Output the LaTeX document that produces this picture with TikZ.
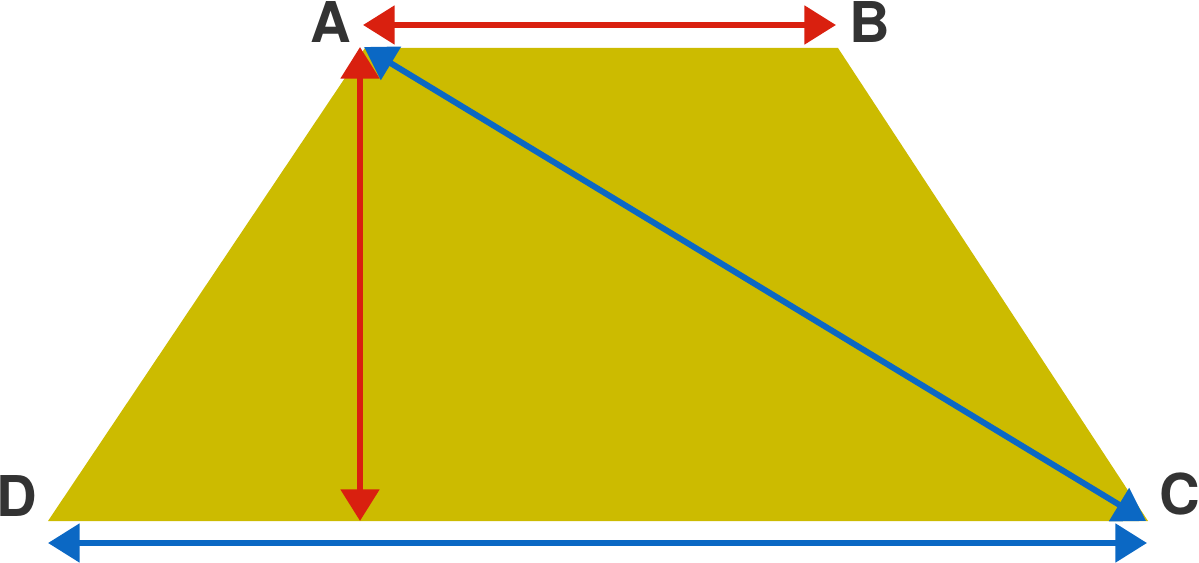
\documentclass[tikz,border=0pt]{standalone}
\usepackage{fontspec}
\setmainfont{TeX Gyre Heros}
\usepackage{tikz}
\usetikzlibrary{arrows.meta}
\usepackage{xcolor}
\definecolor{trapfill}{HTML}{CCBB00}
\definecolor{arrred}{HTML}{D9200F}
\definecolor{arrblue}{HTML}{0B68C4}
\definecolor{lbltext}{HTML}{333333}

\begin{document}
\begin{tikzpicture}[x=0.02cm, y=-0.02cm,
    redarrow/.style={draw=arrred, line width=3.4pt, {Triangle[length=18pt, width=21.5pt]}-{Triangle[length=18pt, width=21.5pt]}},
    bluearrow/.style={draw=arrblue, line width=3.4pt, {Triangle[length=18pt, width=21.5pt]}-{Triangle[length=18pt, width=21.5pt]}},
    lbl/.style={text=lbltext, font=\fontsize{32}{32}\selectfont\bfseries, inner sep=0pt}]
      \useasboundingbox (0,0) rectangle (1199,563);

      % corners of the trapezoid
      \coordinate (A) at (365,48);
      \coordinate (B) at (838,48);
      \coordinate (C) at (1148,521);
      \coordinate (D) at (48,521);
      \fill[trapfill] (A) -- (B) -- (C) -- (D) -- cycle;

      % arrow ends
      \coordinate (topL) at (363,25);
      \coordinate (topR) at (836,25);
      \coordinate (hTop) at (360,47);
      \coordinate (hFoot) at (360,521);
      \coordinate (diagA) at (364,47);
      \coordinate (diagC) at (1146,521);
      \coordinate (botL) at (48,543);
      \coordinate (botR) at (1147,543);

      \draw[redarrow] (topL) -- (topR);
      \draw[redarrow] (hTop) -- (hFoot);
      \draw[bluearrow] (diagA) -- (diagC);
      \draw[bluearrow] (botL) -- (botR);

      % labels
      \node[lbl] (labA) at (331,22) {A};
      \node[lbl] (labB) at (870,22) {B};
      \node[lbl] (labC) at (1180,494) {C};
      \node[lbl] (labD) at (17,496) {D};
    \end{tikzpicture}
\end{document}
